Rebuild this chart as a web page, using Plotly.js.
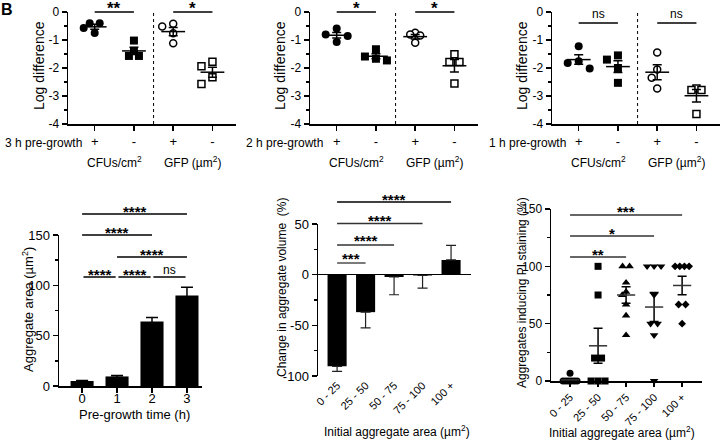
<!DOCTYPE html>
<html><head><meta charset="utf-8">
<script src="https://cdn.plot.ly/plotly-3.0.1.min.js"></script>
<style>html,body{margin:0;padding:0;background:#fff}#chart{width:724px;height:441px}</style>
</head><body><div id="chart"></div>
<script>
// ================= DATA =================
// Top row: log difference with (+) / without (-) pre-growth
const topTickLabels = ['+', '-', '+', '-'];
const topGroupLabels = ['CFUs/cm<sup>2</sup>', 'GFP (µm<sup>2</sup>)'];
const topRowLabels = ['3 h pre-growth', '2 h pre-growth', '1 h pre-growth'];
const topYTickVals = [0, -1, -2, -3, -4];
const topYTickText = ['0', '-1', '-2', '-3', '-4'];

const cfuWith3h = [-0.40, -0.40, -0.57, -0.75];
const cfuWithout3h = [-1.02, -1.39, -1.57, -1.57];
const gfpWith3h = [-0.42, -0.52, -0.76, -1.12];
const gfpWithout3h = [-1.78, -1.94, -2.33, -2.57];
const mean3h = [-0.53, -1.39, -0.70, -2.15];
const sem3h = [0.09, 0.13, 0.15, 0.18];
const sig3h = ['**', '*'];

const cfuWith2h = [-0.59, -0.80, -0.86, -1.07];
const cfuWithout2h = [-1.33, -1.59, -1.67, -1.73];
const gfpWith2h = [-0.74, -0.80, -0.84, -1.10];
const gfpWithout2h = [-1.51, -1.79, -1.79, -2.55];
const mean2h = [-0.83, -1.58, -0.88, -1.92];
const sem2h = [0.10, 0.09, 0.08, 0.22];
const sig2h = ['*', '*'];

const cfuWith1h = [-1.22, -1.76, -1.82, -2.02];
const cfuWithout1h = [-1.55, -1.70, -2.00, -2.53];
const gfpWith1h = [-1.45, -2.05, -2.35, -2.73];
const gfpWithout1h = [-2.73, -2.79, -2.79, -3.64];
const mean1h = [-1.70, -1.95, -2.15, -2.99];
const sem1h = [0.17, 0.21, 0.27, 0.22];
const sig1h = ['ns', 'ns'];

// Bottom left: aggregate area vs pre-growth time
const preGrowthTime = [0, 1, 2, 3];
const preGrowthLabels = ['0', '1', '2', '3'];
const aggregateArea = [5, 9.5, 64, 90];
const aggregateAreaSem = [0.5, 1, 4, 8];
const areaYTicks = [0, 50, 100, 150];
const areaComparisons = [[0, 3, '****'], [0, 2, '****'], [1, 3, '****'], [0, 1, '****'], [1, 2, '****'], [2, 3, 'ns']];

// Bottom middle: change in aggregate volume
const sizeBins = ['0 - 25', '25 - 50', '50 - 75', '75 - 100', '100 +'];
const binIndex = [0, 1, 2, 3, 4];
const volumeChange = [-90.5, -37, -2.3, -0.8, 14.5];
const volumeChangeSem = [5, 15.5, 17.5, 12.5, 14.5];
const volumeYTickVals = [50, 0, -50, -100];
const volumeYTickText = ['50', '0', '-50', '-100'];
const volumeComparisons = [[0, 4, '****'], [0, 3, '****'], [0, 2, '****'], [0, 1, '***']];

// Bottom right: aggregates inducing PI staining (%)
const piBin0 = [0, 0, 0, 0, 0, 0, 6.7];
const piBin1 = [100, 75, 20, 20, 0, 0, 0];
const piBin2 = [100, 100, 85.7, 77.8, 75, 66.7, 57.1, 40];
const piBin3 = [100, 100, 100, 75, 50, 50, 40, 0];
const piBin4 = [100, 100, 100, 100, 66.7, 66.7, 50];
const piMean = [1.0, 30.7, 75.0, 64.5, 83.3];
const piSem = [1.0, 15.3, 7.2, 12.7, 8.1];
const piYTicks = [0, 50, 100, 150];
const piComparisons = [[0, 4, '***'], [0, 3, '*'], [0, 2, '**']];

// ================= LAYOUT HELPERS =================
const W = 724, H = 441;
const FONT = 'Liberation Sans, Arial, Helvetica, sans-serif';
const P = py => 1 - py / H;
const PX = px => px / W;

const boxes = {
  t1: {x0: 68, x1: 236, y0: 12, y1: 124, xr: [-0.68, 3.6], yr: [-4, 0]},
  t2: {x0: 310, x1: 478, y0: 12, y1: 124, xr: [-0.68, 3.6], yr: [-4, 0]},
  t3: {x0: 552, x1: 720, y0: 12, y1: 124, xr: [-0.68, 3.6], yr: [-4, 0]},
  b1: {x0: 59, x1: 202, y0: 235, y1: 386, xr: [-0.66, 3.43], yr: [0, 150]},
  b2: {x0: 318, x1: 471, y0: 224, y1: 376, xr: [-0.67, 4.7], yr: [-100, 50]},
  b3: {x0: 551, x1: 702, y0: 209, y1: 381, xr: [-0.68, 4.71], yr: [0, 150]}
};
function pxPerX(b) { return (b.x1 - b.x0) / (b.xr[1] - b.xr[0]); }
function pxPerY(b) { return (b.y1 - b.y0) / (b.yr[1] - b.yr[0]); }

// simple beeswarm so overlapping points are spread sideways
function swarm(values, center, b, diam, maxHalf) {
  const ax = pxPerX(b), ay = pxPerY(b);
  const idx = values.map((v, i) => i).sort((a, c) => values[c] - values[a]);
  const rows = [];
  idx.forEach(i => {
    const last = rows[rows.length - 1];
    if (last && Math.abs(values[last[0]] - values[i]) * ay < 1.5) last.push(i); else rows.push([i]);
  });
  const placed = [];
  const xs = new Array(values.length);
  rows.forEach(row => {
    const py = values[row[0]] * ay;
    const k = row.length;
    if (k > 1) {
      const step = Math.min(diam, 2 * maxHalf / (k - 1));
      row.forEach((i, j) => {
        const dx = (j - (k - 1) / 2) * step;
        xs[i] = center + dx / ax; placed.push({dx, py});
      });
    } else {
      const cands = [0];
      for (let s = diam * 0.55; s <= maxHalf + 0.01; s += diam * 0.55) cands.push(-s, s);
      let best = 0, bestD = -1;
      for (const c of cands) {
        let minD = Infinity;
        placed.forEach(p => { const d = Math.hypot(p.dx - c, p.py - py); if (d < minD) minD = d; });
        if (minD >= diam * 0.95) { best = c; break; }
        if (minD > bestD) { bestD = minD; best = c; }
      }
      xs[row[0]] = center + best / ax; placed.push({dx: best, py});
    }
  });
  return xs;
}

function baseAxis(extra) {
  return Object.assign({
    showline: true, linecolor: '#000', linewidth: 1.5,
    ticks: 'outside', ticklen: 5, tickwidth: 1.5, tickcolor: '#000',
    showgrid: false, zeroline: false, fixedrange: true,
    tickfont: {family: FONT, size: 12, color: '#000'}
  }, extra);
}

const layout = {
  width: W, height: H, margin: {l: 0, r: 0, t: 0, b: 0},
  paper_bgcolor: '#fff', plot_bgcolor: 'rgba(0,0,0,0)',
  showlegend: false, font: {family: FONT, size: 12, color: '#000'},
  shapes: [], annotations: []
};
const traces = [];

function setAxes(n, b, xExtra, yExtra) {
  const xs = n === 1 ? '' : String(n);
  layout['xaxis' + xs] = baseAxis(Object.assign({
    domain: [PX(b.x0), PX(b.x1)], range: b.xr, anchor: 'y' + xs
  }, xExtra));
  layout['yaxis' + xs] = baseAxis(Object.assign({
    domain: [P(b.y1), P(b.y0)], range: b.yr, anchor: 'x' + xs
  }, yExtra));
}

function ann(o) {
  layout.annotations.push(Object.assign({showarrow: false, font: {family: FONT, size: 12, color: '#000'}}, o));
}
function sigBar(xs, x0, x1, lineY, label, textY, size, col) {
  layout.shapes.push({type: 'line', xref: 'x' + xs, yref: 'paper', x0: x0, x1: x1,
    y0: P(lineY), y1: P(lineY), line: {color: col || '#000', width: 1.3}});
  const isStar = label.indexOf('*') >= 0;
  ann({xref: 'x' + xs, yref: 'paper', x: (x0 + x1) / 2, y: P(textY), xanchor: 'center', yanchor: 'middle',
    text: label,
    font: {family: FONT, size: isStar ? size : 12, color: '#000', weight: isStar ? 'bold' : 'normal'}});
}

// panel letter (cropped at the corner in the reference)
ann({xref: 'paper', yref: 'paper', x: PX(0), y: P(0), xanchor: 'left', yanchor: 'top', borderpad: 0, text: 'B', font: {family: FONT, size: 16, color: '#000', weight: 'bold'}});

// ================= TOP ROW =================
const topPanels = [
  {b: boxes.t1, groups: [cfuWith3h, cfuWithout3h, gfpWith3h, gfpWithout3h], mean: mean3h, sem: sem3h, sig: sig3h, label: topRowLabels[0], labelX: 3, titleX: 39},
  {b: boxes.t2, groups: [cfuWith2h, cfuWithout2h, gfpWith2h, gfpWithout2h], mean: mean2h, sem: sem2h, sig: sig2h, label: topRowLabels[1], labelX: 244, titleX: 280},
  {b: boxes.t3, groups: [cfuWith1h, cfuWithout1h, gfpWith1h, gfpWithout1h], mean: mean1h, sem: sem1h, sig: sig1h, label: topRowLabels[2], labelX: 487, titleX: 522}
];
const topSymbols = ['circle', 'square', 'circle', 'square'];
const topFill = ['#000', '#000', '#fff', '#fff'];

topPanels.forEach((p, k) => {
  const n = k + 1, xs = n === 1 ? '' : String(n);
  setAxes(n, p.b,
    {tickmode: 'array', tickvals: [0, 1, 2, 3], ticktext: topTickLabels, tickfont: {family: FONT, size: 13, color: '#000'}},
    {tickmode: 'array', tickvals: topYTickVals, ticktext: topYTickText, minor: {dtick: 0.5, ticks: 'outside', ticklen: 3, tickwidth: 1.5, tickcolor: '#000'}});
  p.groups.forEach((vals, g) => {
    traces.push({type: 'scatter', mode: 'markers', xaxis: 'x' + xs, yaxis: 'y' + xs,
      x: swarm(vals, g, p.b, 10, 13), y: vals, cliponaxis: false, hoverinfo: 'skip',
      marker: {symbol: topSymbols[g], size: g < 2 ? 8 : 7, color: topFill[g],
        line: {color: '#000', width: g < 2 ? 0 : 1.5}}});
  });
  traces.push({type: 'scatter', mode: 'markers', xaxis: 'x' + xs, yaxis: 'y' + xs,
    x: [0, 1, 2, 3], y: p.mean, cliponaxis: false, hoverinfo: 'skip',
    marker: {symbol: 'line-ew', size: 17, color: '#000', line: {color: '#000', width: 1.5}},
    error_y: {type: 'data', array: p.sem, visible: true, color: '#000', thickness: 1.5, width: 4.5}});
  // dotted separator
  layout.shapes.push({type: 'line', xref: 'x' + xs, yref: 'y' + xs, x0: 1.5, x1: 1.5, y0: -4, y1: 0,
    line: {color: '#000', width: 1, dash: 'dot'}});
  // significance
  const ns = p.sig[0] === 'ns';
  const lineY = ns ? 23 : 12;
  p.sig.forEach((s, j) => {
    sigBar(xs, 2 * j, 2 * j + 1, lineY, s, s === 'ns' ? 14.5 : 8.5, 17);
  });
  // labels
  ann({xref: 'paper', yref: 'paper', x: PX(p.labelX), y: P(143), xanchor: 'left', yanchor: 'middle', text: p.label, font: {family: FONT, size: 12, color: '#000'}});
  topGroupLabels.forEach((t, j) => {
    ann({xref: 'x' + xs, yref: 'paper', x: 2 * j + 0.5, y: P(162), xanchor: 'center', yanchor: 'middle', text: t, font: {family: FONT, size: 12, color: '#000'}});
  });
  ann({xref: 'paper', yref: 'paper', x: PX(p.titleX), y: P(66), xanchor: 'center', yanchor: 'middle', textangle: -90, text: 'Log difference', font: {family: FONT, size: 14, color: '#000'}});
});

// ================= BOTTOM LEFT =================
setAxes(4, boxes.b1,
  {tickmode: 'array', tickvals: preGrowthTime, ticktext: preGrowthLabels, ticklabelstandoff: -5, tickfont: {family: FONT, size: 13, color: '#000'}},
  {tickmode: 'array', tickvals: areaYTicks, tickfont: {family: FONT, size: 13, color: '#000'}, minor: {dtick: 25, ticks: 'outside', ticklen: 3, tickwidth: 1.5, tickcolor: '#000'}});
traces.push({type: 'bar', xaxis: 'x4', yaxis: 'y4', x: preGrowthTime, y: aggregateArea, width: 0.66,
  marker: {color: '#000', line: {width: 0}}, hoverinfo: 'skip',
  error_y: {type: 'data', array: aggregateAreaSem, visible: true, color: '#000', thickness: 1.5, width: 6}});
const areaLevels = [[214, 211], [235, 232.5], [257, 254], [277, 274], [277, 274], [277, 274]];
areaComparisons.forEach((c, i) => {
  const short = i >= 3 ? 0.04 : 0;
  const ty = c[2] === 'ns' ? 269.5 : areaLevels[i][1];
  sigBar('4', c[0] + short, c[1] - short, areaLevels[i][0], c[2], ty, 15);
});
ann({xref: 'paper', yref: 'paper', x: PX(28), y: P(310), textangle: -90, xanchor: 'center', yanchor: 'middle', text: 'Aggregate area (µm<sup>2</sup>)', font: {family: FONT, size: 13, color: '#000'}});
ann({xref: 'x4', yref: 'paper', x: 1.5, y: P(414), xanchor: 'center', yanchor: 'middle', text: 'Pre-growth time (h)', font: {family: FONT, size: 13, color: '#000'}});

// ================= BOTTOM MIDDLE =================
setAxes(5, boxes.b2,
  {showline: false, ticks: '', tickmode: 'array', tickvals: binIndex, ticktext: sizeBins, tickangle: -45, tickfont: {family: FONT, size: 11, color: '#000'}},
  {tickmode: 'array', tickvals: volumeYTickVals, ticktext: volumeYTickText, zeroline: true, zerolinecolor: '#000', zerolinewidth: 1.5,
   tickfont: {family: FONT, size: 13, color: '#000'},
   minor: {dtick: 25, ticks: 'outside', ticklen: 3, tickwidth: 1.5, tickcolor: '#000'}});
traces.push({type: 'bar', xaxis: 'x5', yaxis: 'y5', x: binIndex, y: volumeChange, width: 0.67,
  marker: {color: '#000', line: {width: 0}}, hoverinfo: 'skip',
  error_y: {type: 'data', symmetric: false, visible: true, color: '#222', thickness: 1.2, width: 5,
    array: volumeChange.map((v, i) => v >= 0 ? volumeChangeSem[i] : 0),
    arrayminus: volumeChange.map((v, i) => v < 0 ? volumeChangeSem[i] : 0)}});
const volLevels = [[202, 199.5], [223.5, 220.5], [245, 240.5], [263, 258]];
volumeComparisons.forEach((c, i) => sigBar('5', c[0], c[1], volLevels[i][0], c[2], volLevels[i][1], 15, i === 0 ? '#000' : '#333'));
ann({xref: 'paper', yref: 'paper', x: PX(282), y: P(288), textangle: -90, xanchor: 'center', yanchor: 'middle', text: 'Change in aggregate volume&nbsp; (%)', font: {family: FONT, size: 12, color: '#000'}});
ann({xref: 'paper', yref: 'paper', x: PX(397), y: P(431), xanchor: 'center', yanchor: 'middle', text: 'Initial aggregate area (µm<sup>2</sup>)', font: {family: FONT, size: 12, color: '#000'}});

// ================= BOTTOM RIGHT =================
setAxes(6, boxes.b3,
  {tickmode: 'array', tickvals: binIndex, ticktext: sizeBins, tickangle: -45, ticklen: 4, tickfont: {family: FONT, size: 11, color: '#000'}},
  {tickmode: 'array', tickvals: piYTicks, minor: {dtick: 25, ticks: 'outside', ticklen: 3, tickwidth: 1.5, tickcolor: '#000'}});
const piGroups = [piBin0, piBin1, piBin2, piBin3, piBin4];
const piSymbols = ['circle', 'square', 'triangle-up', 'triangle-down', 'diamond'];
const piSizes = [7, 7, 7.5, 7.5, 6];
piGroups.forEach((vals, g) => {
  traces.push({type: 'scatter', mode: 'markers', xaxis: 'x6', yaxis: 'y6',
    x: swarm(vals, g, boxes.b3, 7, 7), y: vals, cliponaxis: false, hoverinfo: 'skip',
    marker: {symbol: piSymbols[g], size: piSizes[g], color: '#000', line: {width: 0}}});
});
traces.push({type: 'scatter', mode: 'markers', xaxis: 'x6', yaxis: 'y6', x: binIndex, y: piMean,
  cliponaxis: false, hoverinfo: 'skip',
  marker: {symbol: 'line-ew', size: 13, color: '#333', line: {color: '#333', width: 1.5}},
  error_y: {type: 'data', array: piSem, visible: true, color: '#000', thickness: 1.5, width: 4.5}});
const piLevels = [[215, 211.5], [236, 233], [257, 254]];
piComparisons.forEach((c, i) => sigBar('6', c[0], c[1], piLevels[i][0], c[2], piLevels[i][1], 15, '#333'));
ann({xref: 'paper', yref: 'paper', x: PX(522), y: P(293), textangle: -90, xanchor: 'center', yanchor: 'middle', text: 'Aggregates inducing PI staining (%)', font: {family: FONT, size: 12, color: '#000'}});
ann({xref: 'paper', yref: 'paper', x: PX(622), y: P(432), xanchor: 'center', yanchor: 'middle', text: 'Initial aggregate area (µm<sup>2</sup>)', font: {family: FONT, size: 12, color: '#000'}});

Plotly.newPlot('chart', traces, layout, {staticPlot: true, displayModeBar: false});
</script></body></html>
